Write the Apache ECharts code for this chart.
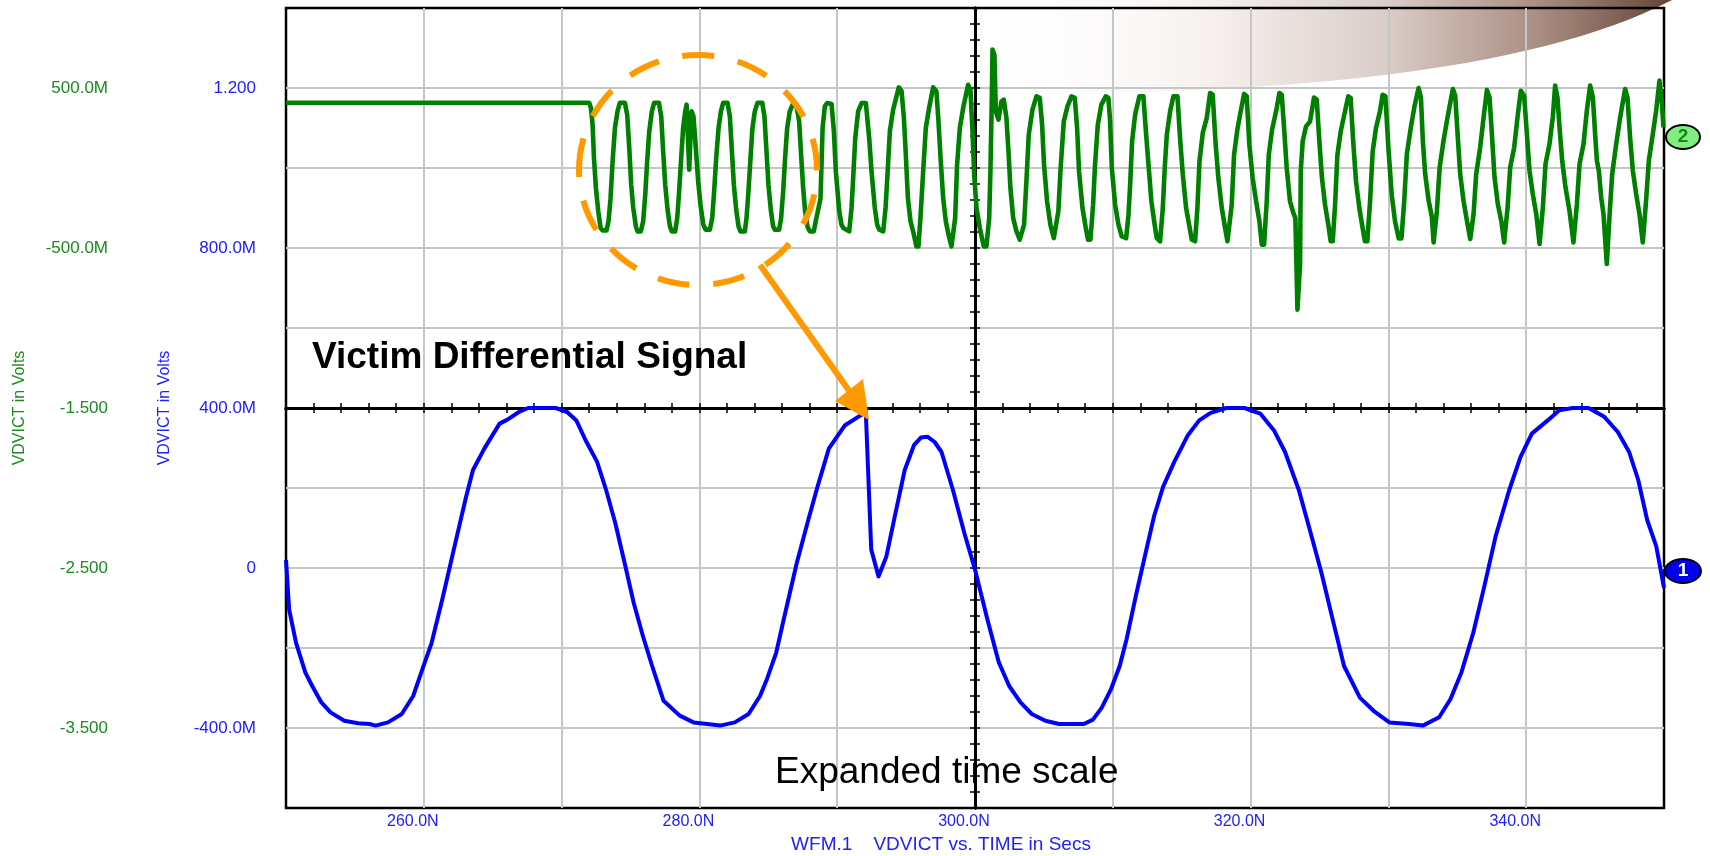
<!DOCTYPE html>
<html>
<head>
<meta charset="utf-8">
<title>Victim Differential Signal</title>
<script src="https://cdn.jsdelivr.net/npm/echarts@6/dist/echarts.min.js"></script>
<style>
html, body { margin: 0; padding: 0; background: #fff; }
#graph { width: 1710px; height: 856px; }
</style>
</head>
<body>
<div id="graph"></div>
<script>
// time in ns, volts.
const timeTicks = [260, 280, 300, 320, 340]
const timeTickText = ['260.0N', '280.0N', '300.0N', '320.0N', '340.0N']
const blueTicks = [1.2, 0.8, 0.4, 0, -0.4]
const blueTickText = ['1.200', '800.0M', '400.0M', '0', '-400.0M']
const greenTicks = [0.5, -0.5, -1.5, -2.5, -3.5]
const greenTickText = ['500.0M', '-500.0M', '-1.500', '-2.500', '-3.500']

// WFM 1 - expanded time scale (blue)
const blueTrace = [
  [250.0,0.02],[250.23,-0.104],[250.73,-0.187],[251.4,-0.261],[251.9,-0.295],[252.57,-0.336],[253.23,-0.361],
  [254.23,-0.382],[255.23,-0.388],[256.07,-0.39],[256.5,-0.394],[257.4,-0.386],[258.4,-0.365],[259.23,-0.32],
  [259.9,-0.253],[260.57,-0.187],[261.4,-0.07],[262.23,0.054],[263.07,0.178],[263.57,0.245],[264.4,0.299],
  [265.5,0.361],[266.07,0.371],[266.9,0.39],[267.57,0.4],[269.57,0.4],[270.4,0.39],[271.07,0.369],[271.73,0.32],
  [272.57,0.266],[273.23,0.195],[273.9,0.112],[274.57,0.013],[275.23,-0.087],[275.9,-0.17],[276.57,-0.245],
  [277.4,-0.332],[278.57,-0.369],[279.57,-0.386],[280.57,-0.39],[281.5,-0.394],[282.57,-0.386],[283.57,-0.365],
  [284.4,-0.32],[284.9,-0.278],[285.57,-0.212],[286.23,-0.112],[287.07,0.013],[287.9,0.12],[288.57,0.203],
  [289.4,0.299],[290.57,0.357],[291.9,0.386],[292.07,0.395],[292.47,0.046],[293.0,-0.021],[293.57,0.029],
  [294.23,0.137],[294.9,0.245],[295.57,0.307],[296.07,0.326],[296.57,0.328],[297.07,0.315],[297.57,0.29],
  [298.4,0.195],[299.23,0.087],[300.0,-0.004],[300.9,-0.129],[301.73,-0.236],[302.48,-0.295],[303.3,-0.336],
  [304.12,-0.365],[305.1,-0.382],[306.1,-0.39],[307.9,-0.39],[308.56,-0.379],[309.2,-0.349],[309.87,-0.303],
  [310.5,-0.245],[311.0,-0.178],[311.67,-0.07],[312.33,0.03],[313.0,0.13],[313.65,0.203],[314.47,0.266],
  [315.45,0.332],[316.27,0.369],[317.1,0.388],[318.24,0.4],[319.56,0.4],[320.7,0.386],[321.7,0.344],
  [322.5,0.29],[323.5,0.195],[324.3,0.095],[325.14,-0.012],[325.96,-0.129],[326.78,-0.245],[327.93,-0.324],
  [328.92,-0.357],[330.07,-0.386],[331.5,-0.39],[332.5,-0.394],[333.68,-0.373],[334.5,-0.328],[335.3,-0.261],
  [336.16,-0.162],[336.96,-0.046],[337.78,0.079],[338.77,0.195],[339.59,0.278],[340.41,0.336],[341.56,0.369],
  [342.38,0.394],[343.37,0.4],[344.52,0.4],[345.67,0.378],[346.65,0.34],[347.47,0.29],[348.13,0.22],
  [348.78,0.12],[349.44,0.054],[350.0,-0.05]
]

// WFM 2 - victim differential signal (green), split in pieces
const greenFlat = [[250, 0.408], [272.0, 0.408]]
const greenBurstA = [
  [272.13,0.375],[272.25,0.27],[272.35,0.06],[272.49,-0.125],[272.66,-0.27],[272.83,-0.375],[272.97,-0.39],[273.26,-0.39],
  [273.41,-0.33],[273.55,-0.19],[273.7,0.04],[273.87,0.25],[274.06,0.355],[274.23,0.408],[274.59,0.408],
  [274.76,0.333],[274.91,0.125],[275.05,-0.104],[275.2,-0.25],[275.39,-0.365],[275.51,-0.396],[275.75,-0.396],
  [275.92,-0.333],[276.07,-0.167],[276.21,0.042],[276.36,0.229],[276.55,0.354],[276.72,0.408],[277.06,0.408],
  [277.23,0.323],[277.37,0.104],[277.52,-0.104],[277.69,-0.26],[277.86,-0.365],[278.0,-0.396],[278.24,-0.396],
  [278.39,-0.313],[278.53,-0.146],[278.68,0.063],[278.82,0.25],[278.97,0.354],[279.07,0.396],[279.26,-0.01],
  [279.43,0.354],[279.57,0.323],[279.74,0.125],[279.91,-0.083],[280.08,-0.23],[280.28,-0.354],[280.45,-0.385],[280.76,-0.385],
  [280.93,-0.313],[281.07,-0.146],[281.22,0.063],[281.39,0.25],[281.56,0.354],[281.73,0.408],[282.04,0.408],
  [282.21,0.323],[282.36,0.104],[282.5,-0.104],[282.67,-0.26],[282.84,-0.365],[282.98,-0.396],[283.3,-0.396],
  [283.42,-0.313],[283.56,-0.146],[283.71,0.063],[283.85,0.25],[284.02,0.354],[284.22,0.408],[284.56,0.408],
  [284.72,0.323],[284.87,0.104],[285.01,-0.104],[285.18,-0.26],[285.35,-0.365],[285.47,-0.385],[285.79,-0.385],
  [285.93,-0.313],[286.08,-0.146],[286.22,0.063],[286.37,0.25],[286.56,0.354],[286.76,0.396],[287.05,0.385],
  [287.24,0.29],[287.38,0.083],[287.53,-0.125],[287.67,-0.27],[287.84,-0.365],[288.01,-0.396],[288.3,-0.396],
  [288.45,-0.33],[288.79,-0.19],[288.94,0.25],[289.1,0.385],[289.27,0.406],[289.59,0.4],[289.76,0.229],[289.9,-0.02]
]
const greenBurstB = [
  [290.15,-0.27],[290.31,-0.354],[290.44,-0.375],[290.87,-0.396],[291.04,-0.25],[291.16,-0.063],[291.31,0.188],
  [291.52,0.354],[291.77,0.406],[292.08,0.406],[292.32,0.188],[292.49,-0.02],[292.73,-0.25],[292.9,-0.354],
  [293.05,-0.385],[293.34,-0.396],[293.51,-0.25],[293.65,-0.04],[293.82,0.229],[294.06,0.365],[294.47,0.504],
  [294.67,0.48],[294.84,0.313],[294.98,0.083],[295.13,-0.188],[295.32,-0.333],[295.51,-0.396],[295.75,-0.49],[295.9,-0.49],
  [296.04,-0.313],[296.24,-0.02],[296.43,0.25],[296.67,0.375],[296.96,0.504],[297.2,0.48],[297.35,0.29],
  [297.5,0.063],[297.69,-0.188],[297.88,-0.333],[298.08,-0.417],[298.29,-0.49],[298.41,-0.49],
  [298.56,-0.313],[298.7,0.02],[298.9,0.25],[299.14,0.375],[299.5,0.52],[299.67,0.49],[299.82,0.229],
  [299.94,-0.04],[300.11,-0.25],[300.35,-0.375],[300.64,-0.49],[300.83,-0.49],
  [301.03,-0.313],[301.12,-0.02],[301.22,0.438],[301.27,0.74],[301.41,0.708],[301.51,0.354],[301.7,0.302],
  [301.92,0.417],[302.09,0.427],[302.28,0.313],[302.43,0.104],[302.57,-0.125],[302.77,-0.313],[303.01,-0.396],
  [303.25,-0.448],[303.39,-0.458],[303.56,-0.354],[303.73,-0.083],[303.9,0.208],[304.17,0.365],[304.46,0.448],
  [304.7,0.438],[304.87,0.27],[305.01,0.02],[305.23,-0.208],[305.47,-0.354],[305.72,-0.438],[305.86,-0.438],
  [306.05,-0.27],[306.2,-0.02],[306.44,0.29],[306.71,0.385],[307.0,0.448],[307.24,0.438],[307.41,0.25],
  [307.55,-0.02],[307.8,-0.25],[308.04,-0.375],[308.21,-0.448],[308.38,-0.448],
  [308.57,-0.229],[308.71,0.02],[308.91,0.27],[309.17,0.396],[309.49,0.448],[309.68,0.438]
]
const greenBurstC = [
  [309.8,0.3],[309.93,0.0],[310.17,-0.23],[310.41,-0.354],[310.65,-0.427],[310.97,-0.438],
  [311.14,-0.29],[311.26,-0.104],[311.4,0.167],[311.62,0.333],[311.93,0.448],[312.22,0.448],[312.42,0.208],
  [312.61,0.0],[312.8,-0.208],[313.0,-0.333],[313.19,-0.438],[313.43,-0.458],
  [313.63,-0.25],[313.77,0.0],[313.92,0.208],[314.16,0.354],[314.4,0.448],[314.69,0.448],[314.88,0.188],
  [315.08,-0.04],[315.32,-0.25],[315.56,-0.365],[315.73,-0.448],[315.97,-0.458],
  [316.14,-0.25],[316.29,0.042],[316.53,0.219],[316.82,0.313],[317.06,0.469],[317.25,0.458],[317.45,0.167],
  [317.66,-0.063],[317.91,-0.25],[318.15,-0.375],[318.32,-0.458],[318.46,-0.458],
  [318.63,-0.229],[318.8,0.083],[319.04,0.24],[319.28,0.354],[319.53,0.463],[319.72,0.448],[319.91,0.146],
  [320.15,-0.063],[320.4,-0.208],[320.64,-0.333],[320.81,-0.479],[320.98,-0.479],
  [321.17,-0.208],[321.32,0.083],[321.56,0.24],[321.85,0.354],[322.09,0.469],[322.26,0.458],[322.43,0.25],
  [322.62,0.0],[322.86,-0.208],[323.1,-0.28],[323.25,-0.313],[323.4,-0.885],[323.59,-0.604],[323.64,-0.02],
  [323.78,0.167],[324.02,0.26],[324.31,0.29],[324.6,0.44],[324.8,0.427],[324.99,0.167],[325.18,-0.063],
  [325.4,-0.229],[325.64,-0.354],[325.81,-0.458],[325.96,-0.458],
  [326.13,-0.229],[326.3,0.083],[326.54,0.229],[326.85,0.354],[327.09,0.448],[327.26,0.438],[327.46,0.146],
  [327.65,-0.083],[327.89,-0.25],[328.13,-0.375],[328.3,-0.458],[328.47,-0.458],
  [328.67,-0.208],[328.86,0.104],[329.1,0.25],[329.39,0.354],[329.58,0.458],[329.78,0.448],[330.0,0.125],
  [330.24,-0.167],[330.48,-0.333]
]
const greenBurstD = [
  [330.75,-0.44],[330.95,-0.44],[331.15,-0.204],[331.34,0.088],[331.63,0.254],[331.88,0.379],[332.19,0.5],
  [332.36,0.44],[332.5,0.17],[332.67,-0.038],[332.92,-0.204],[333.16,-0.308],[333.28,-0.465],
  [333.52,-0.267],[333.72,0.004],[334.0,0.17],[334.29,0.317],[334.68,0.494],[334.85,0.452],[335.02,0.213],
  [335.21,-0.038],[335.45,-0.204],[335.7,-0.33],[335.94,-0.444],
  [336.18,-0.288],[336.37,-0.038],[336.66,0.129],[336.91,0.317],[337.15,0.488],[337.34,0.44],[337.51,0.213],
  [337.7,-0.058],[337.94,-0.225],[338.19,-0.33],[338.4,-0.465],
  [338.65,-0.246],[338.84,0.004],[339.13,0.129],[339.37,0.317],[339.61,0.483],[339.85,0.452],[340.05,0.213],
  [340.24,-0.017],[340.48,-0.163],[340.73,-0.288],[340.97,-0.475],
  [341.21,-0.246],[341.4,0.025],[341.69,0.15],[341.93,0.317],[342.1,0.515],[342.27,0.44],[342.42,0.254],
  [342.61,0.046],[342.85,-0.12],[343.14,-0.267],[343.43,-0.465],
  [343.68,-0.225],[343.87,0.025],[344.16,0.15],[344.4,0.358],[344.64,0.515],[344.84,0.44],[345.0,0.213],
  [345.13,0.046],[345.27,-0.017],[345.44,-0.183],[345.61,-0.288],[345.85,-0.6],
  [346.04,-0.308],[346.24,-0.038],[346.53,0.15],[346.82,0.317],[347.18,0.494],[347.35,0.44],[347.54,0.19],
  [347.74,-0.017],[347.98,-0.163],[348.22,-0.288],[348.46,-0.465],
  [348.7,-0.204],[348.9,0.046],[349.19,0.213],[349.43,0.358],[349.67,0.546],[349.84,0.42],[349.96,0.254]
]

const greenTrace = greenFlat.concat(greenBurstA, greenBurstB, greenBurstC, greenBurstD)

const FONT = "'Liberation Sans', Arial, sans-serif"
const BLUE_TXT = '#2020ff'
const GREEN_TXT = '#1b8b1b'

function pickLabel (vals, texts) {
    return function (v) {
        for (let i = 0; i < vals.length; i++) {
            if (Math.abs(v - vals[i]) < 1e-6) return texts[i]
        }
        return ''
    }
}

// brown swoosh in the upper right corner (decoration only)
function swooshPoints (p0, c, p1) {
    let pts = []
    for (let i = 0; i <= 30; i++) {
        let s = i / 30
        let a = (1 - s) * (1 - s), b = 2 * s * (1 - s), d = s * s
        pts.push([a * p0[0] + b * c[0] + d * p1[0], a * p0[1] + b * c[1] + d * p1[1]])
    }
    pts.push([p1[0], 0], [p0[0], 0])
    return pts
}

let chart = echarts.init(document.getElementById('graph'))
chart.setOption({
    animation: false,
    backgroundColor: '#fff',
    textStyle: { fontFamily: FONT },
    grid: {
        left: 286, right: 46, top: 8, bottom: 48,
        show: true,
        borderColor: '#000',
        borderWidth: 2.5,
        backgroundColor: 'transparent',
        outerBoundsMode: 'none'
    },
    xAxis: [
        {
            type: 'value', min: 250, max: 350, interval: 10,
            position: 'bottom',
            axisLine: { show: false, onZero: false },
            axisTick: { show: false },
            axisLabel: {
                color: BLUE_TXT, fontSize: 16, margin: 6,
                padding: [0, 22, 0, 0],
                formatter: pickLabel(timeTicks, timeTickText)
            },
            splitLine: { show: true, showMinLine: false, showMaxLine: false, lineStyle: { color: '#c4c8c4', width: 2 } },
            name: 'WFM.1    VDVICT vs. TIME in Secs',
            nameLocation: 'middle',
            nameGap: 27,
            nameTextStyle: { color: BLUE_TXT, fontSize: 19, padding: [0, 68, 0, 0] }
        },
        // helper, only gives a zero in the middle for the vertical centre line
        { type: 'value', min: -1, max: 1, show: false },
        {
            type: 'value', min: 250, max: 350, interval: 2,
            axisLine: { show: true, onZero: true, onZeroAxisIndex: 2, lineStyle: { color: '#000', width: 3 } },
            axisTick: { show: true, inside: true, length: 5, lineStyle: { color: '#000', width: 1.5 } },
            axisLabel: { show: false },
            splitLine: { show: false }
        },
        {
            type: 'value', min: 250, max: 350, interval: 2,
            axisLine: { show: true, onZero: true, onZeroAxisIndex: 2, lineStyle: { color: '#000', width: 3 } },
            axisTick: { show: true, inside: false, length: 5, lineStyle: { color: '#000', width: 1.5 } },
            axisLabel: { show: false },
            splitLine: { show: false }
        }
    ],
    yAxis: [
        {
            type: 'value', min: -0.6, max: 1.4, interval: 0.2,
            position: 'left',
            axisLine: { show: false, onZero: false },
            axisTick: { show: false },
            axisLabel: {
                color: BLUE_TXT, fontSize: 17, margin: 30,
                formatter: pickLabel(blueTicks, blueTickText)
            },
            splitLine: { show: true, showMinLine: false, showMaxLine: false, lineStyle: { color: '#c4c8c4', width: 2 } },
            name: 'VDVICT in Volts',
            nameLocation: 'middle',
            nameGap: 113,
            nameTextStyle: { color: BLUE_TXT, fontSize: 16 }
        },
        {
            type: 'value', min: -4, max: 1, interval: 0.5,
            position: 'left',
            offset: 146,
            axisLine: { show: false, onZero: false },
            axisTick: { show: false },
            axisLabel: {
                color: GREEN_TXT, fontSize: 17, margin: 32,
                formatter: pickLabel(greenTicks, greenTickText)
            },
            splitLine: { show: false },
            name: 'VDVICT in Volts',
            nameLocation: 'middle',
            nameGap: 112,
            nameTextStyle: { color: GREEN_TXT, fontSize: 16 }
        },
        // helper, zero in the middle for the horizontal centre line
        { type: 'value', min: -1, max: 1, show: false },
        {
            type: 'value', min: -25, max: 25, interval: 1, position: 'left',
            axisLine: { show: true, onZero: true, onZeroAxisIndex: 1, lineStyle: { color: '#000', width: 3 } },
            axisTick: { show: true, inside: true, length: 5, lineStyle: { color: '#000', width: 1.5 } },
            axisLabel: { show: false },
            splitLine: { show: false }
        },
        {
            type: 'value', min: -25, max: 25, interval: 1, position: 'left',
            axisLine: { show: true, onZero: true, onZeroAxisIndex: 1, lineStyle: { color: '#000', width: 3 } },
            axisTick: { show: true, inside: false, length: 5, lineStyle: { color: '#000', width: 1.5 } },
            axisLabel: { show: false },
            splitLine: { show: false }
        }
    ],
    series: [
        {
            name: 'VDVICT 2',
            type: 'line',
            xAxisIndex: 0,
            yAxisIndex: 1,
            showSymbol: false,
            data: greenTrace,
            lineStyle: { color: '#008000', width: 4.6, join: 'round' },
            z: 3
        },
        {
            name: 'VDVICT 1',
            type: 'line',
            xAxisIndex: 0,
            yAxisIndex: 0,
            showSymbol: false,
            data: blueTrace,
            lineStyle: { color: '#0000ff', width: 4, join: 'round' },
            z: 4
        }
    ],
    graphic: [
        {
            type: 'polygon', z: -1, silent: true,
            shape: { points: swooshPoints([960, 93], [1480, 100], [1672, 0]) },
            style: {
                fill: new echarts.graphic.LinearGradient(0, 0, 1, 0, [
                    { offset: 0, color: 'rgba(255,255,255,0)' },
                    { offset: 0.35, color: '#f6f1ef' },
                    { offset: 0.6, color: '#dacdc8' },
                    { offset: 0.82, color: '#a88b80' },
                    { offset: 1, color: '#634536' }
                ])
            }
        },
        {
            type: 'ellipse', z: 20, silent: true,
            shape: { cx: 698, cy: 170, rx: 119, ry: 115 },
            style: { fill: 'none', stroke: '#ff9900', lineWidth: 6, lineDash: [32, 24] }
        },
        {
            type: 'line', z: 20, silent: true,
            shape: { x1: 760, y1: 265, x2: 850, y2: 392 },
            style: { stroke: '#ff9900', lineWidth: 6 }
        },
        {
            type: 'polygon', z: 20, silent: true,
            shape: { points: [[869, 420], [835, 401], [863, 379]] },
            style: { fill: '#ff9900' }
        },
        {
            type: 'text', z: 20, silent: true,
            style: {
                text: 'Victim Differential Signal', x: 312, y: 358,
                verticalAlign: 'middle', align: 'left',
                font: 'bold 37px ' + FONT, fill: '#000'
            }
        },
        {
            type: 'text', z: 20, silent: true,
            style: {
                text: 'Expanded time scale', x: 775, y: 773,
                verticalAlign: 'middle', align: 'left',
                font: '37px ' + FONT, fill: '#000'
            }
        },
        {
            type: 'ellipse', z: 20, silent: true,
            shape: { cx: 1683, cy: 137, rx: 17, ry: 12 },
            style: { fill: '#80ee80', stroke: '#000', lineWidth: 2 }
        },
        {
            type: 'text', z: 21, silent: true,
            style: {
                text: '2', x: 1683, y: 137, align: 'center', verticalAlign: 'middle',
                font: 'bold 19px ' + FONT, fill: '#138a13'
            }
        },
        {
            type: 'ellipse', z: 20, silent: true,
            shape: { cx: 1683, cy: 571, rx: 18, ry: 12 },
            style: { fill: '#0000ee', stroke: '#000', lineWidth: 2 }
        },
        {
            type: 'text', z: 21, silent: true,
            style: {
                text: '1', x: 1683, y: 571, align: 'center', verticalAlign: 'middle',
                font: 'bold 19px ' + FONT, fill: '#fff'
            }
        }
    ]
})
</script>
</body>
</html>
